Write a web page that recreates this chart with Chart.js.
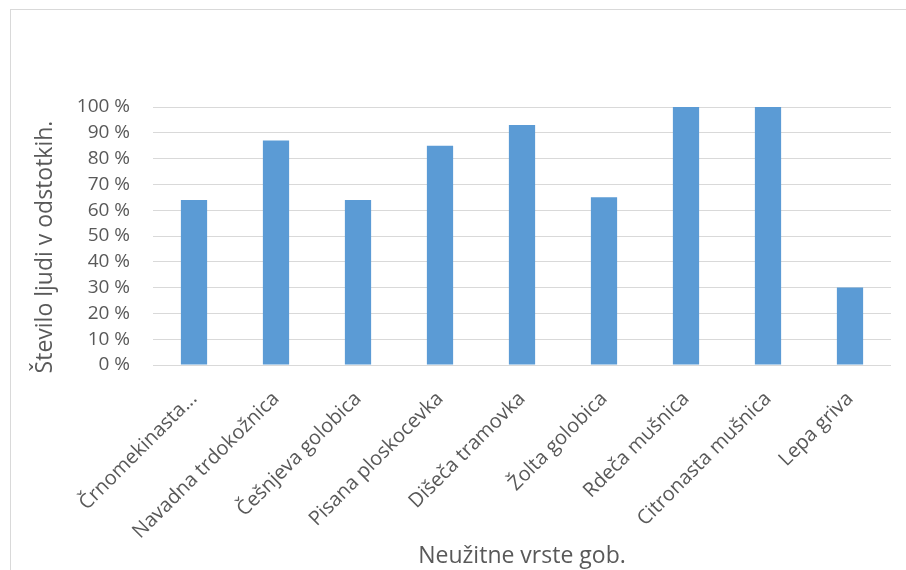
<!DOCTYPE html>
<html>
<head>
<meta charset="utf-8">
<script src="https://cdn.jsdelivr.net/npm/chart.js@4"></script>
<style>
  body { margin: 0; background: #fff; }
  #wrap { position: relative; width: 906px; height: 570px; overflow: hidden; }
  #frame { position: absolute; left: 10px; top: 9px; width: 1000px; height: 700px; border: 1px solid #d9d9d9; }
  canvas { position: absolute; left: 0; top: 0; }
</style>
</head>
<body>
<div id="wrap">
  <div id="frame"></div>
  <canvas id="chart" width="906" height="570"></canvas>
</div>
<script>
const categories = [
  "Črnomekinasta...",
  "Navadna trdokožnica",
  "Češnjeva golobica",
  "Pisana ploskocevka",
  "Dišeča tramovka",
  "Žolta golobica",
  "Rdeča mušnica",
  "Citronasta mušnica",
  "Lepa griva"
];
const shares = [64, 87, 64, 85, 93, 65, 100, 100, 30];
const yTitle = "Število ljudi v odstotkih.";
const xTitle = "Neužitne vrste gob.";

const textColor = "#595959";
const fontName = "'Open Sans', sans-serif";

// y axis title sits a bit lower than the plot centre, like in Excel
const yTitlePlugin = {
  id: "yTitle",
  afterDraw(chart) {
    const c = chart.ctx;
    c.save();
    c.translate(45, 247);
    c.rotate(-Math.PI / 2);
    c.font = "23px " + fontName;
    c.fillStyle = textColor;
    c.textAlign = "center";
    c.textBaseline = "middle";
    c.fillText(yTitle, 0, 0);
    c.restore();
  }
};

const ctx = document.getElementById("chart");

const chart = new Chart(ctx, {
  type: "bar",
  data: {
    labels: categories,
    datasets: [{
      label: "Število ljudi",
      data: shares,
      backgroundColor: "#5b9bd5",
      categoryPercentage: 1,
      barPercentage: 0.32
    }]
  },
  options: {
    responsive: false,
    animation: false,
    layout: { padding: { left: 10, top: 107, right: 15, bottom: 0 } },
    plugins: {
      legend: { display: false },
      tooltip: { enabled: false }
    },
    scales: {
      x: {
        grid: { display: false },
        border: { display: false },
        ticks: {
          color: textColor,
          font: { family: fontName, size: 20 },
          minRotation: 45,
          maxRotation: 45,
          autoSkip: false,
          padding: 14
        },
        title: {
          display: true,
          text: xTitle,
          color: textColor,
          font: { family: fontName, size: 23 },
          padding: { top: 0, bottom: 0 }
        },
        afterFit: (scale) => { scale.height = 205; }
      },
      y: {
        min: 0,
        max: 100,
        grid: { color: "#d9d9d9", lineWidth: 1, drawTicks: false },
        border: { display: false },
        ticks: {
          stepSize: 10,
          color: textColor,
          font: { family: fontName, size: 19 },
          padding: 23,
          callback: (v) => v + " %"
        },
        afterFit: (scale) => { scale.width = 143; }
      }
    }
  },
  plugins: [yTitlePlugin]
});
</script>
</body>
</html>
